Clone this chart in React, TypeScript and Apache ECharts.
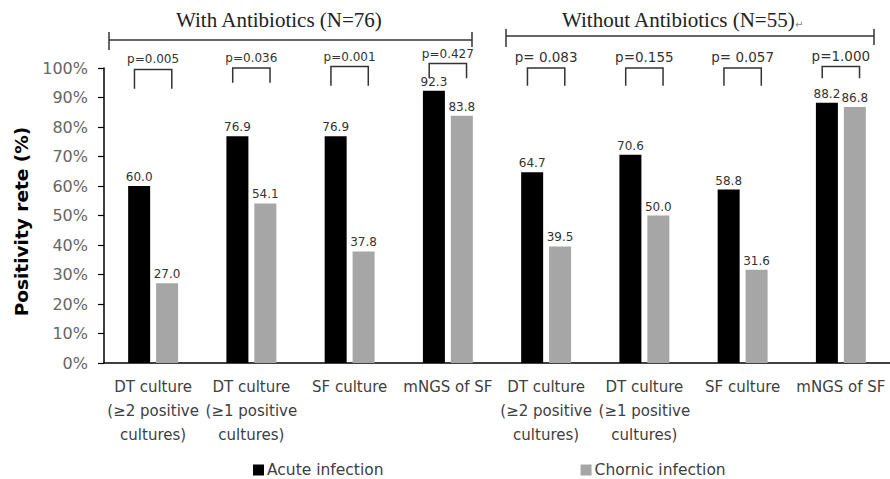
import React, { useEffect, useRef } from "react";
import * as echarts from "echarts";

const categories = [
  "DT culture\n(≥2 positive\ncultures)",
  "DT culture\n(≥1 positive\ncultures)",
  "SF culture",
  "mNGS of SF",
  "DT culture\n(≥2 positive\ncultures)",
  "DT culture\n(≥1 positive\ncultures)",
  "SF culture",
  "mNGS of SF",
];
const acute = [60.0, 76.9, 76.9, 92.3, 64.7, 70.6, 58.8, 88.2];
const chronic = [27.0, 54.1, 37.8, 83.8, 39.5, 50.0, 31.6, 86.8];
const pValues = ["p=0.005", "p=0.036", "p=0.001", "p=0.427", "p= 0.083", "p=0.155", "p= 0.057", "p=1.000"];
const bracketTop = [99.5, 100, 100.5, 101.5, 100, 100, 100, 100.5];
const bracketBottom = [93, 95, 94, 96.5, 94, 94, 94, 96.5];
const groupTitles = ["With Antibiotics (N=76)", "Without Antibiotics (N=55)"];
const yTicks = [0, 10, 20, 30, 40, 50, 60, 70, 80, 90, 100];

export default function App() {
  const ref = useRef<HTMLDivElement>(null);
  useEffect(() => {
    if (!ref.current) return;
    const chart = echarts.init(ref.current, null, { renderer: "svg" });
    const font = "DejaVu Sans";
    const serif = "Liberation Serif";
    chart.setOption({
      animation: false,
      backgroundColor: "#ffffff",
      textStyle: { fontFamily: font },
      grid: { left: 104, top: 68, width: 786, height: 295, containLabel: false },
      legend: {
        top: 462,
        left: 253,
        padding: 0,
        itemWidth: 11,
        itemHeight: 11,
        itemGap: 197,
        icon: "rect",
        textStyle: { fontSize: 15.5, color: "#404040", fontFamily: font, padding: [0, 0, 0, -2] },
        data: ["Acute infection", "Chornic infection"],
      },
      xAxis: {
        type: "category",
        data: categories,
        axisLine: { lineStyle: { color: "#000", width: 1.5 } },
        axisTick: { show: false },
        axisLabel: {
          interval: 0,
          fontSize: 15,
          color: "#404040",
          lineHeight: 24,
          margin: 12,
          fontFamily: font,
        },
      },
      yAxis: {
        type: "value",
        min: 0,
        max: 100,
        interval: 10,
        name: "Positivity rete (%)",
        nameLocation: "middle",
        nameGap: 68,
        nameTextStyle: {
          fontSize: 18.5,
          fontWeight: "bold",
          color: "#000",
          fontFamily: font,
          padding: [0, 12, 0, 0],
        },
        axisLine: { show: true, lineStyle: { color: "#000", width: 1.5 } },
        axisTick: { show: true, length: 6, lineStyle: { color: "#000", width: 1.2 } },
        splitLine: { show: false },
        axisLabel: {
          fontSize: 16,
          color: "#666",
          margin: 16,
          fontFamily: font,
          formatter: (v: number) => (yTicks.includes(v) ? v + "%" : ""),
        },
      },
      series: [
        {
          name: "Acute infection",
          type: "bar",
          data: acute,
          barWidth: 22,
          barGap: "27%",
          itemStyle: { color: "#000000" },
          label: {
            show: true,
            position: "top",
            distance: 3,
            fontSize: 12,
            color: "#333",
            formatter: (p: any) => p.value.toFixed(1),
          },
        },
        {
          name: "Chornic infection",
          type: "bar",
          data: chronic,
          barWidth: 22,
          itemStyle: { color: "#a6a6a6" },
          label: {
            show: true,
            position: "top",
            distance: 3,
            fontSize: 12,
            color: "#333",
            formatter: (p: any) => p.value.toFixed(1),
          },
        },
        {
          type: "custom",
          clip: false,
          silent: true,
          data: pValues.map((p, i) => [i, bracketTop[i], bracketBottom[i]]),
          renderItem: (params: any, api: any) => {
            const idx = api.value(0);
            const top = api.coord([idx, api.value(1)]);
            const bot = api.coord([idx, api.value(2)]);
            const band = api.size([1, 0])[0];
            const hw = band * 0.19;
            const cx = top[0];
            return {
              type: "group",
              children: [
                {
                  type: "polyline",
                  shape: {
                    points: [
                      [cx - hw, bot[1]],
                      [cx - hw, top[1]],
                      [cx + hw, top[1]],
                      [cx + hw, bot[1]],
                    ],
                  },
                  style: { stroke: "#333", lineWidth: 1.5, fill: null },
                },
                {
                  type: "text",
                  x: cx,
                  y: top[1] - 4,
                  style: {
                    text: pValues[params.dataIndex],
                    fontSize: params.dataIndex >= 4 ? 13.5 : 12,
                    fill: "#333",
                    fontFamily: font,
                    align: "center",
                    verticalAlign: "bottom",
                  },
                },
              ],
            };
          },
        },
      ],
      graphic: [
        {
          type: "text",
          left: 176,
          top: 9,
          style: { text: groupTitles[0], fontSize: 21, fill: "#222", fontFamily: serif },
        },
        {
          type: "line",
          shape: { x1: 109, y1: 40, x2: 472, y2: 40 },
          style: { stroke: "#333", lineWidth: 1.5 },
        },
        { type: "line", shape: { x1: 109, y1: 32, x2: 109, y2: 50 }, style: { stroke: "#333", lineWidth: 1.5 } },
        { type: "line", shape: { x1: 472, y1: 32, x2: 472, y2: 47 }, style: { stroke: "#333", lineWidth: 1.5 } },
        {
          type: "text",
          left: 562,
          top: 9,
          style: { text: groupTitles[1], fontSize: 21, fill: "#222", fontFamily: serif },
        },
        {
          type: "text",
          left: 795,
          top: 19,
          style: { text: "↵", fontSize: 10, fill: "#888", fontFamily: font },
        },
        {
          type: "line",
          shape: { x1: 506, y1: 36, x2: 874, y2: 36 },
          style: { stroke: "#333", lineWidth: 1.5 },
        },
        { type: "line", shape: { x1: 506, y1: 29, x2: 506, y2: 47 }, style: { stroke: "#333", lineWidth: 1.5 } },
        { type: "line", shape: { x1: 874, y1: 29, x2: 874, y2: 45 }, style: { stroke: "#333", lineWidth: 1.5 } },
      ],
    });
    return () => chart.dispose();
  }, []);
  return <div ref={ref} style={{ width: 890, height: 479, position: "absolute", left: 0, top: 0 }} />;
}
